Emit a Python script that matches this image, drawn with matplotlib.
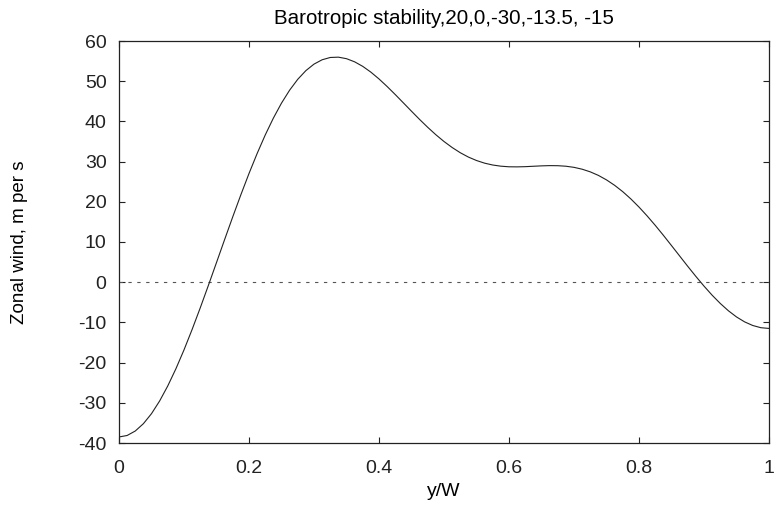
import matplotlib
matplotlib.use("Agg")
import matplotlib.pyplot as plt
from matplotlib.ticker import FuncFormatter

# y/W positions and zonal wind values
y_over_w = [0.0000, 0.0125, 0.0250, 0.0375, 0.0500, 0.0625, 0.0750, 0.0875,
            0.1000, 0.1125, 0.1250, 0.1375, 0.1500, 0.1625, 0.1750, 0.1875,
            0.2000, 0.2125, 0.2250, 0.2375, 0.2500, 0.2625, 0.2750, 0.2875,
            0.3000, 0.3125, 0.3250, 0.3375, 0.3500, 0.3625, 0.3750, 0.3875,
            0.4000, 0.4125, 0.4250, 0.4375, 0.4500, 0.4625, 0.4750, 0.4875,
            0.5000, 0.5125, 0.5250, 0.5375, 0.5500, 0.5625, 0.5750, 0.5875,
            0.6000, 0.6125, 0.6250, 0.6375, 0.6500, 0.6625, 0.6750, 0.6875,
            0.7000, 0.7125, 0.7250, 0.7375, 0.7500, 0.7625, 0.7750, 0.7875,
            0.8000, 0.8125, 0.8250, 0.8375, 0.8500, 0.8625, 0.8750, 0.8875,
            0.9000, 0.9125, 0.9250, 0.9375, 0.9500, 0.9625, 0.9750, 0.9875,
            1.0000]
zonal_wind = [-38.50, -38.13, -37.02, -35.20, -32.70, -29.55, -25.81, -21.55,
              -16.84, -11.75, -6.38, -0.80, 4.89, 10.61, 16.26, 21.76,
              27.04, 32.01, 36.63, 40.82, 44.55, 47.77, 50.47, 52.63,
              54.25, 55.33, 55.90, 55.98, 55.60, 54.82, 53.69, 52.25,
              50.56, 48.68, 46.68, 44.61, 42.53, 40.48, 38.52, 36.68,
              35.00, 33.51, 32.21, 31.13, 30.27, 29.61, 29.15, 28.86,
              28.71, 28.69, 28.74, 28.84, 28.94, 29.00, 28.98, 28.85,
              28.57, 28.11, 27.45, 26.57, 25.45, 24.10, 22.52, 20.71,
              18.69, 16.49, 14.14, 11.67, 9.11, 6.53, 3.95, 1.44,
              -0.97, -3.23, -5.28, -7.10, -8.64, -9.87, -10.77, -11.32,
              -11.50]
zero_x = [0, 1]
zero_y = [0, 0]

x_ticks = [0, 0.2, 0.4, 0.6, 0.8, 1]
y_ticks = [-40, -30, -20, -10, 0, 10, 20, 30, 40, 50, 60]

plt.rcParams['font.family'] = ['Liberation Sans', 'DejaVu Sans']
plt.rcParams['axes.unicode_minus'] = False

fig = plt.figure(figsize=(7.75, 5.07), dpi=100)
ax = fig.add_axes([119/775, 1 - 443/507, (769-119)/775, (443-41)/507])

ax.plot(zero_x, zero_y, color='#555555', lw=0.8, ls=(0, (3, 5)))
ax.plot(y_over_w, zonal_wind, color='#222222', lw=0.8)

ax.set_xlim(0, 1)
ax.set_ylim(-40, 60)
ax.set_xticks(x_ticks)
ax.set_yticks(y_ticks)
ax.xaxis.set_major_formatter(FuncFormatter(lambda v, p: ('%g' % v)))
ax.tick_params(direction='in', length=4, width=0.8, top=True, right=True,
               labelsize=14, colors='#222222')
ax.tick_params(axis='x', pad=12.5)
ax.tick_params(axis='y', pad=9)
for s in ax.spines.values():
    s.set_linewidth(0.9)
    s.set_color('#222222')

ax.set_title('Barotropic stability,20,0,-30,-13.5, -15', fontsize=14.8, pad=12)
ax.set_xlabel('y/W', fontsize=14)
ax.set_ylabel('Zonal wind, m per s', fontsize=13.5)
ax.xaxis.set_label_coords(0.5, -0.10)
ax.yaxis.set_label_coords(-0.14, 0.5)

fig.savefig('out.png', dpi=100)
